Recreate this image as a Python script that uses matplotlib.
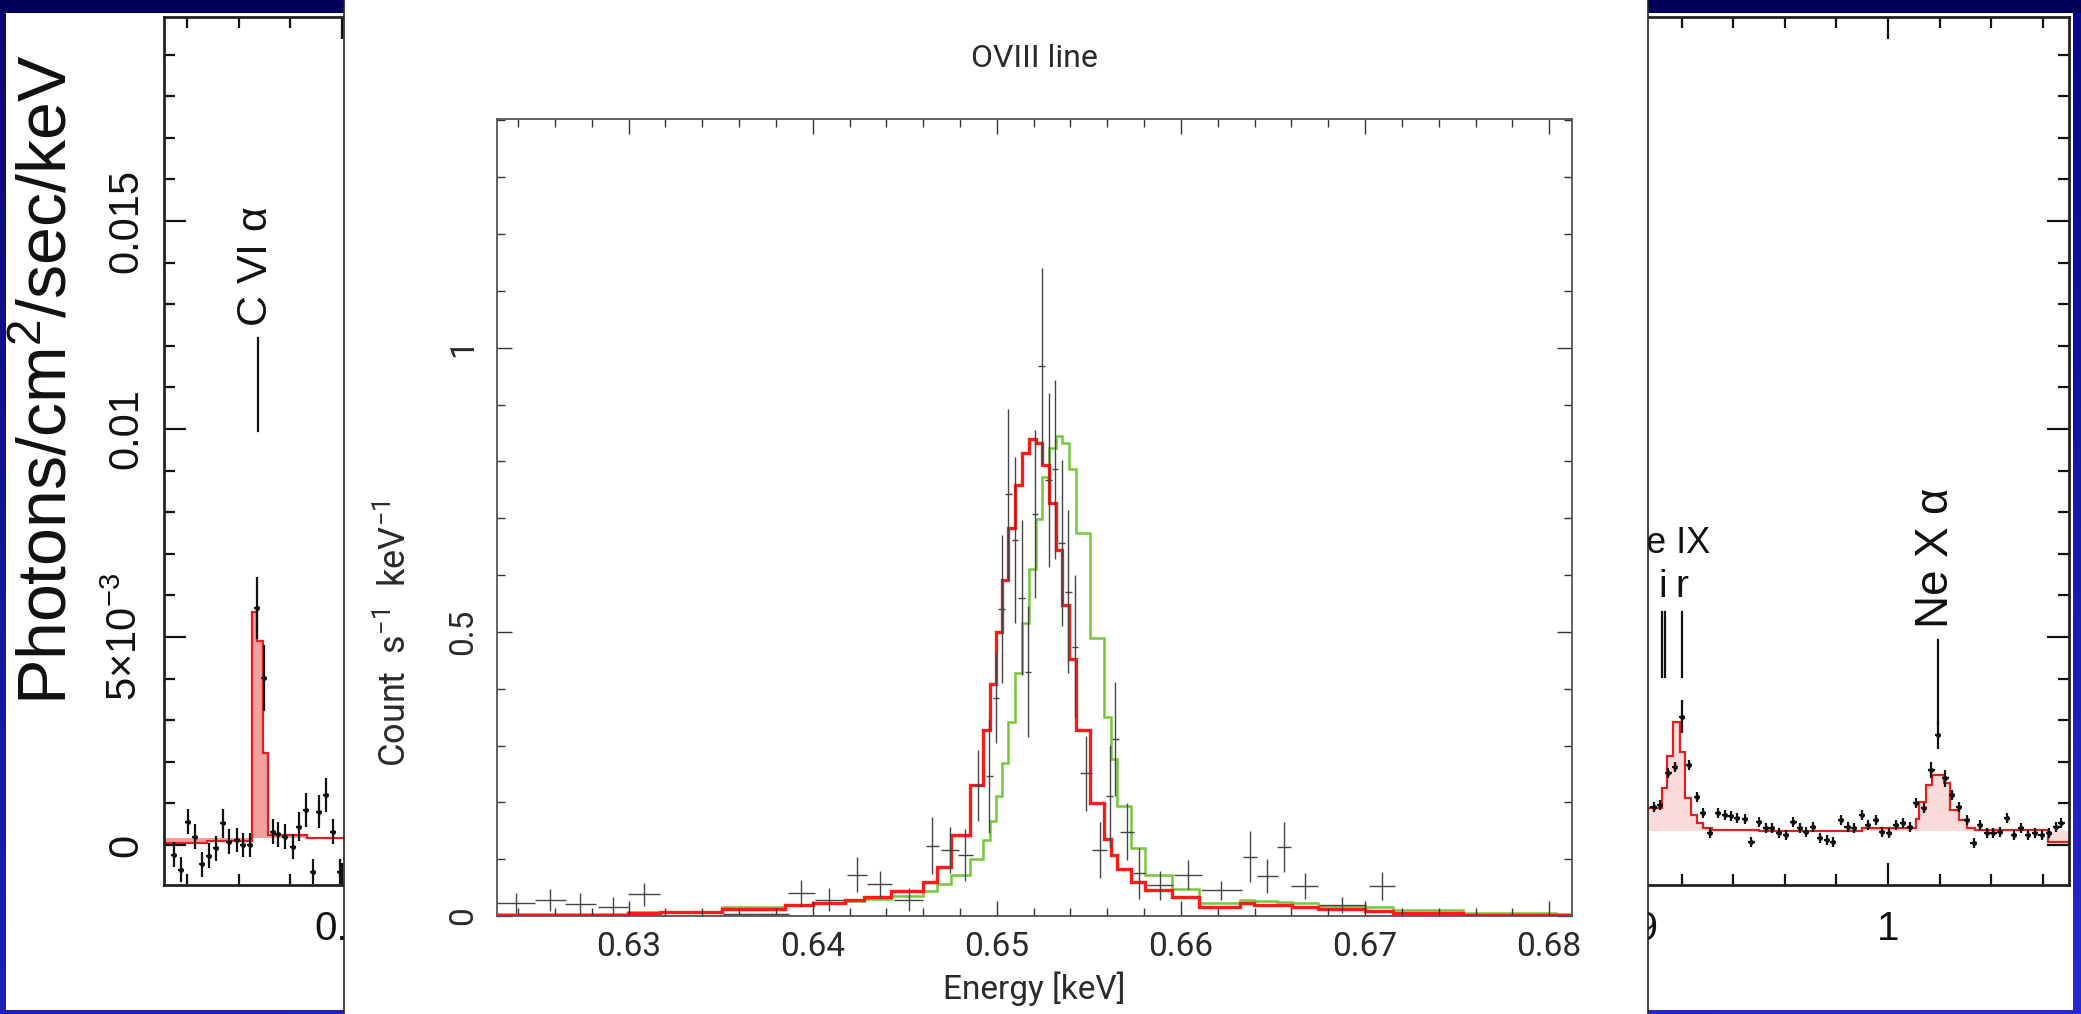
import numpy as np
import matplotlib
matplotlib.use('Agg')
import matplotlib.pyplot as plt
from matplotlib.patches import Rectangle
from matplotlib.ticker import MultipleLocator

W, H = 2081, 1014
plt.rcParams['mathtext.default'] = 'regular'

# ---------------- centre panel : OVIII line ----------------
bin_edges = [0.62285, 0.62995, 0.6317, 0.63506, 0.63852, 0.64002, 0.64173, 0.64277, 0.64423,
             0.64601, 0.64674, 0.64752, 0.64856, 0.64927, 0.64962, 0.64993, 0.65028, 0.65063,
             0.651, 0.65138, 0.65176, 0.65211, 0.65247, 0.65283, 0.65319, 0.65355, 0.65392,
             0.6543, 0.65505, 0.6558, 0.65619, 0.65655, 0.65731, 0.65802, 0.65953, 0.66097,
             0.66323, 0.66399, 0.66522, 0.66603, 0.66744, 0.67002, 0.67153, 0.6753, 0.68037,
             0.68124]
model_red = [0.001, 0.006, 0.0076, 0.013, 0.019, 0.023, 0.028, 0.033, 0.044, 0.06, 0.087,
             0.142, 0.23, 0.328, 0.409, 0.5, 0.592, 0.683, 0.758, 0.815, 0.840, 0.833, 0.794,
             0.727, 0.644, 0.548, 0.453, 0.327, 0.199, 0.135, 0.108, 0.082, 0.059, 0.046,
             0.034, 0.015, 0.022, 0.019, 0.019, 0.016, 0.012, 0.008, 0.006, 0.0023, 0.0023]
model_green = [0.004, 0.007, 0.007, 0.015, 0.019, 0.022, 0.026, 0.03, 0.036, 0.044, 0.056,
               0.072, 0.1, 0.134, 0.167, 0.212, 0.27, 0.341, 0.427, 0.515, 0.611, 0.699,
               0.773, 0.824, 0.844, 0.833, 0.787, 0.674, 0.489, 0.351, 0.277, 0.193, 0.120,
               0.072, 0.048, 0.022, 0.029, 0.026, 0.025, 0.022, 0.018, 0.015, 0.011, 0.006,
               0.003]
pt_energy = [0.62387, 0.62574, 0.62737, 0.62915, 0.63085, 0.636, 0.6378, 0.63937, 0.6409,
             0.6424, 0.64363, 0.64521, 0.6465, 0.64747, 0.64828, 0.64898, 0.64959, 0.64995,
             0.65026, 0.65062, 0.65098, 0.65134, 0.6517, 0.65207, 0.65243, 0.65282, 0.65316,
             0.65352, 0.65388, 0.65424, 0.65483, 0.65558, 0.65612, 0.65644, 0.65705, 0.65774,
             0.65886, 0.66037, 0.6622, 0.66373, 0.66468, 0.6656, 0.66672, 0.66877, 0.67093]
pt_count = [0.023, 0.028, 0.021, 0.016, 0.038, 0.003, 0.003, 0.040, 0.029, 0.073, 0.056,
            0.029, 0.124, 0.116, 0.107, 0.230, 0.246, 0.384, 0.540, 0.742, 0.662, 0.560,
            0.430, 0.708, 0.968, 0.767, 0.786, 0.656, 0.571, 0.474, 0.251, 0.116, 0.211,
            0.312, 0.148, 0.075, 0.054, 0.073, 0.045, 0.104, 0.070, 0.122, 0.053, 0.019, 0.053]
pt_xerr = [0.00103, 0.00085, 0.00085, 0.00083, 0.00088, 0.0009, 0.0009, 0.00073, 0.0008,
           0.00054, 0.00067, 0.0008, 0.00036, 0.00049, 0.0004, 0.00027, 0.00018, 0.00018,
           0.00018, 0.00018, 0.00018, 0.00018, 0.00018, 0.00018, 0.00018, 0.00018, 0.00018,
           0.00018, 0.00018, 0.00018, 0.00034, 0.00039, 0.00018, 0.00018, 0.00038, 0.00032,
           0.00072, 0.00075, 0.0011, 0.00038, 0.00057, 0.00037, 0.00075, 0.00127, 0.00072]
pt_yerr = [0.018, 0.02, 0.02, 0.018, 0.02, 0.003, 0.003, 0.024, 0.02, 0.031, 0.024, 0.02,
           0.05, 0.04, 0.046, 0.062, 0.1, 0.08, 0.13, 0.15, 0.146, 0.136, 0.115, 0.148, 0.172,
           0.153, 0.157, 0.146, 0.144, 0.126, 0.066, 0.05, 0.09, 0.1, 0.05, 0.045, 0.026,
           0.026, 0.016, 0.045, 0.03, 0.044, 0.023, 0.014, 0.025]
oviii_xticks = [0.63, 0.64, 0.65, 0.66, 0.67, 0.68]
oviii_yticks = [0, 0.5, 1]

# ---------------- background spectrum : C VI part (left) ----------------
cvi_edges = [0.33093, 0.3475, 0.36496, 0.3669, 0.36946, 0.3714, 0.3863, 0.42]
cvi_model = [0.00004, 0.0001, 0.0056, 0.0049, 0.0022, 0.00025, 0.00016]
cvi_energy = [0.33492, 0.33752, 0.34036, 0.34296, 0.34556, 0.34839, 0.35111, 0.35371,
              0.35627, 0.35914, 0.3617, 0.3643, 0.36713, 0.36973, 0.37311, 0.37528,
              0.37788, 0.38087, 0.38343, 0.38603, 0.38863, 0.39119, 0.39379, 0.39662, 0.39922]
cvi_flux = [-0.00024, -0.0006, 0.00056, 0.0002, -0.00046, -0.00026, -0.00008, 0.00052,
            0.00008, 0.00012, 0.0, 0.0, 0.00569, 0.00401, 0.00032, 0.00026, 0.0002,
            -0.00004, 0.00044, 0.00084, -0.00064, 0.0008, 0.0012, 0.00032, -0.00064]
cvi_err = [0.0003, 0.0003, 0.0003, 0.0003, 0.0003, 0.0003, 0.0003, 0.00035, 0.0003, 0.0003,
           0.0003, 0.0003, 0.00075, 0.0008, 0.0003, 0.0003, 0.0003, 0.0003, 0.00035,
           0.0004, 0.0003, 0.0004, 0.0004, 0.0003, 0.0003]

# ---------------- background spectrum : Ne part (right), units 1e-3 ----------------
ne_edges = [0.9054, 0.9122, 0.9142, 0.9167, 0.9193, 0.9212, 0.9234, 0.9258, 0.9283, 0.9315,
            0.95, 0.99, 1.0107, 1.012, 1.0146, 1.0171, 1.0216, 1.0242, 1.0274, 1.0306, 1.0339,
            1.0622, 1.0702]
ne_model = [0.88, 1.36, 2.13, 2.96, 2.24, 1.13, 0.72, 0.52, 0.42, 0.36, 0.33, 0.40, 0.62,
            1.03, 1.44, 1.68, 1.48, 0.84, 0.60, 0.40, 0.36, 0.08]
ne_energy = [0.909, 0.91158, 0.9148, 0.91737, 0.91996, 0.9229, 0.92575, 0.9283, 0.93089,
             0.9341, 0.93668, 0.93888, 0.94144, 0.9444, 0.94699, 0.94992, 0.95251, 0.9551,
             0.95764, 0.9605, 0.96332, 0.96591, 0.96822, 0.97104, 0.97363, 0.97618, 0.97876,
             0.98174, 0.98429, 0.98687, 0.98984, 0.99239, 0.99525, 0.9978, 1.00039, 1.0032,
             1.00579, 1.00838, 1.01093, 1.0139, 1.01687, 1.01942, 1.02228, 1.02485, 1.02768,
             1.03062, 1.0332, 1.03579, 1.03834, 1.04093, 1.04351, 1.04606, 1.04903, 1.05162,
             1.05444, 1.05703, 1.05958, 1.06243, 1.06537, 1.0673]
ne_flux = [0.92, 0.96, 1.72, 1.88, 3.08, 1.92, 1.16, 0.76, 0.28, 0.76, 0.72, 0.70, 0.64,
           0.62, 0.08, 0.56, 0.40, 0.40, 0.28, 0.24, 0.56, 0.40, 0.32, 0.44, 0.16, 0.12,
           0.08, 0.60, 0.44, 0.40, 0.72, 0.48, 0.60, 0.32, 0.28, 0.48, 0.52, 0.44, 1.00,
           0.88, 1.80, 2.64, 1.60, 1.20, 0.92, 0.60, 0.04, 0.48, 0.28, 0.28, 0.32, 0.64,
           0.24, 0.40, 0.24, 0.28, 0.24, 0.28, 0.44, 0.52]
ne_err = [0.12] * len(ne_flux)
ne_err[4] = 0.40
ne_err[40] = 0.2
ne_err[41] = 0.34
ne_err[42] = 0.2

wide_xticks = [0.4, 0.5, 0.6, 0.7, 0.8, 0.9, 1.0]
wide_xlabels = ['0.4', '', '', '', '', '0.9', '1']
wide_yticks = [0, 0.005, 0.01, 0.015]
wide_ylabels = ['0', r'5$\times$10$^{-3}$', '0.01', '0.015']

SANS = ['Liberation Sans', 'DejaVu Sans']
THIN = ['Roboto', 'Lato', 'DejaVu Sans']
INK = '#111111'
GREY = '#2a2a2a'


def px_box(x0, y0, x1, y1):
    # pixel box, origin top-left -> figure fraction
    return [x0 / W, 1 - y1 / H, (x1 - x0) / W, (y1 - y0) / H]


fig = plt.figure(figsize=(W / 100, H / 100), dpi=100)

# slide background
bg_ax = fig.add_axes([0, 0, 1, 1], zorder=0)
yy, xx = np.mgrid[0:1:300j, 0:1:600j]
grad = np.dstack([0.03 + 0.09 * yy + 0.04 * xx * yy,
                  0.03 + 0.09 * yy + 0.04 * xx * yy,
                  0.45 + 0.28 * yy + 0.08 * xx])
bg_ax.imshow(grad, extent=[0, W, H, 0], aspect='auto', interpolation='bilinear')
bg_ax.add_patch(Rectangle((0, 0), W, 13, color='#00005a', lw=0))
bg_ax.add_patch(Rectangle((6, 13), 338, 997, color='white', lw=0))
bg_ax.add_patch(Rectangle((1648, 13), 425, 997, color='white', lw=0))
bg_ax.set_xlim(0, W)
bg_ax.set_ylim(H, 0)
bg_ax.axis('off')

# wide spectrum behind the card
wa = fig.add_axes(px_box(164, 17, 2069, 885), zorder=1, facecolor='none')
wa.stairs(cvi_model, cvi_edges, baseline=0.00016, fill=True, color='#f2a0a0', lw=0)
wa.stairs(cvi_model, cvi_edges, color='#e0201e', lw=1.6)
ne_model_f = [v * 1e-3 for v in ne_model]
wa.stairs(ne_model_f, ne_edges, baseline=0.00034, fill=True, color='#fbdada', lw=0)
wa.stairs(ne_model_f, ne_edges, color='#e0201e', lw=1.6)
wa.errorbar(cvi_energy, cvi_flux, yerr=cvi_err, xerr=0.0012, fmt='o', ms=2.5,
            color=INK, elinewidth=1.6, capsize=0)
wa.errorbar(ne_energy, [v * 1e-3 for v in ne_flux], yerr=[v * 1e-3 for v in ne_err],
            xerr=0.0012, fmt='o', ms=2.5, color=INK, elinewidth=1.6, capsize=0)
wa.set_xlim(0.33093, 1.07024)
wa.set_ylim(-0.000962, 0.019904)
wa.set_xticks(wide_xticks, labels=wide_xlabels, family=SANS, fontsize=29, color=INK)
wa.set_yticks(wide_yticks, labels=wide_ylabels, family=SANS, fontsize=30, color=INK,
              rotation=90, va='center', ha='right')
wa.xaxis.set_minor_locator(MultipleLocator(0.02))
wa.yaxis.set_minor_locator(MultipleLocator(0.001))
wa.tick_params(which='both', direction='in', top=True, right=True, color=INK, width=1.6)
wa.tick_params(which='major', length=16)
wa.tick_params(which='minor', length=8)
wa.tick_params(axis='x', pad=18)
wa.tick_params(axis='y', pad=13)
for s in wa.spines.values():
    s.set_linewidth(2.0)
    s.set_color('#222222')

# line identifications
wa.plot([0.36752, 0.36752], [0.00995, 0.01219], color=INK, lw=1.6)
wa.text(0.3668, 0.01245, r'C VI $\alpha$', rotation=90, ha='center', va='bottom',
        fontsize=31, family=SANS, color=INK)
wa.plot([1.0194, 1.0194], [0.0029, 0.00493], color=INK, lw=1.6)
wa.text(1.0185, 0.0052, r'Ne X $\alpha$', rotation=90, ha='center', va='bottom',
        fontsize=33, family=SANS, color=INK)
for e in (0.91211, 0.91339, 0.92):
    wa.plot([e, e], [0.00404, 0.0056], color=INK, lw=1.6)
wa.text(0.9127, 0.00595, 'i', ha='center', va='baseline', fontsize=28, family=SANS, color=INK)
wa.text(0.9200, 0.00595, 'r', ha='center', va='baseline', fontsize=28, family=SANS, color=INK)
wa.text(0.9312, 0.00702, 'Ne IX', ha='right', va='baseline', fontsize=26, family=SANS,
        color=INK)

fig.text(49 / W, 1 - 380 / H, 'Photons/cm$^2$/sec/keV', rotation=90, ha='center',
         va='center', fontsize=49, family=SANS, color=INK)

# white card holding the OVIII plot
card = fig.add_axes(px_box(344, 0, 1648, 1014), zorder=2, facecolor='white')
card.set_xticks([])
card.set_yticks([])
for side in ('top', 'bottom'):
    card.spines[side].set_visible(False)
for side in ('left', 'right'):
    card.spines[side].set_color('#222222')
    card.spines[side].set_linewidth(1.2)

ax = fig.add_axes(px_box(497, 119.3, 1572, 916), zorder=3)
ax.stairs(model_green, bin_edges, color='#73c83c', lw=1.8)
ax.stairs(model_red, bin_edges, color='#ff1a1a', lw=2.4)
ax.errorbar(pt_energy, pt_count, xerr=pt_xerr, yerr=pt_yerr, fmt='none',
            ecolor='#444444', elinewidth=1.0, capsize=0)
ax.set_xlim(0.62285, 0.68124)
ax.set_ylim(0, 1.402)
ax.set_xticks(oviii_xticks, labels=['%.2f' % v for v in oviii_xticks], family=THIN,
              fontsize=24, color=GREY)
ax.set_yticks(oviii_yticks, labels=['%g' % v for v in oviii_yticks], family=THIN,
              fontsize=24, color=GREY, rotation=90, va='center', ha='right')
ax.xaxis.set_minor_locator(MultipleLocator(0.002))
ax.yaxis.set_minor_locator(MultipleLocator(0.1))
ax.tick_params(which='both', direction='in', top=True, right=True, color='#333333', width=1.0)
ax.tick_params(which='major', length=11)
ax.tick_params(which='minor', length=5.5)
ax.tick_params(axis='x', pad=11)
ax.tick_params(axis='y', pad=13)
for s in ax.spines.values():
    s.set_color('#555555')
    s.set_linewidth(1.3)
ax.set_title('OVIII line', fontsize=23, family=THIN, color=GREY, pad=38)
ax.set_xlabel('Energy [keV]', fontsize=24, family=THIN, color=GREY, labelpad=6)
ax.set_ylabel('Count  s$^{-1}$  keV$^{-1}$', fontsize=26, family=THIN, color=GREY)
ax.yaxis.set_label_coords(-0.078, 0.354)

fig.savefig('out.png', dpi=100)
